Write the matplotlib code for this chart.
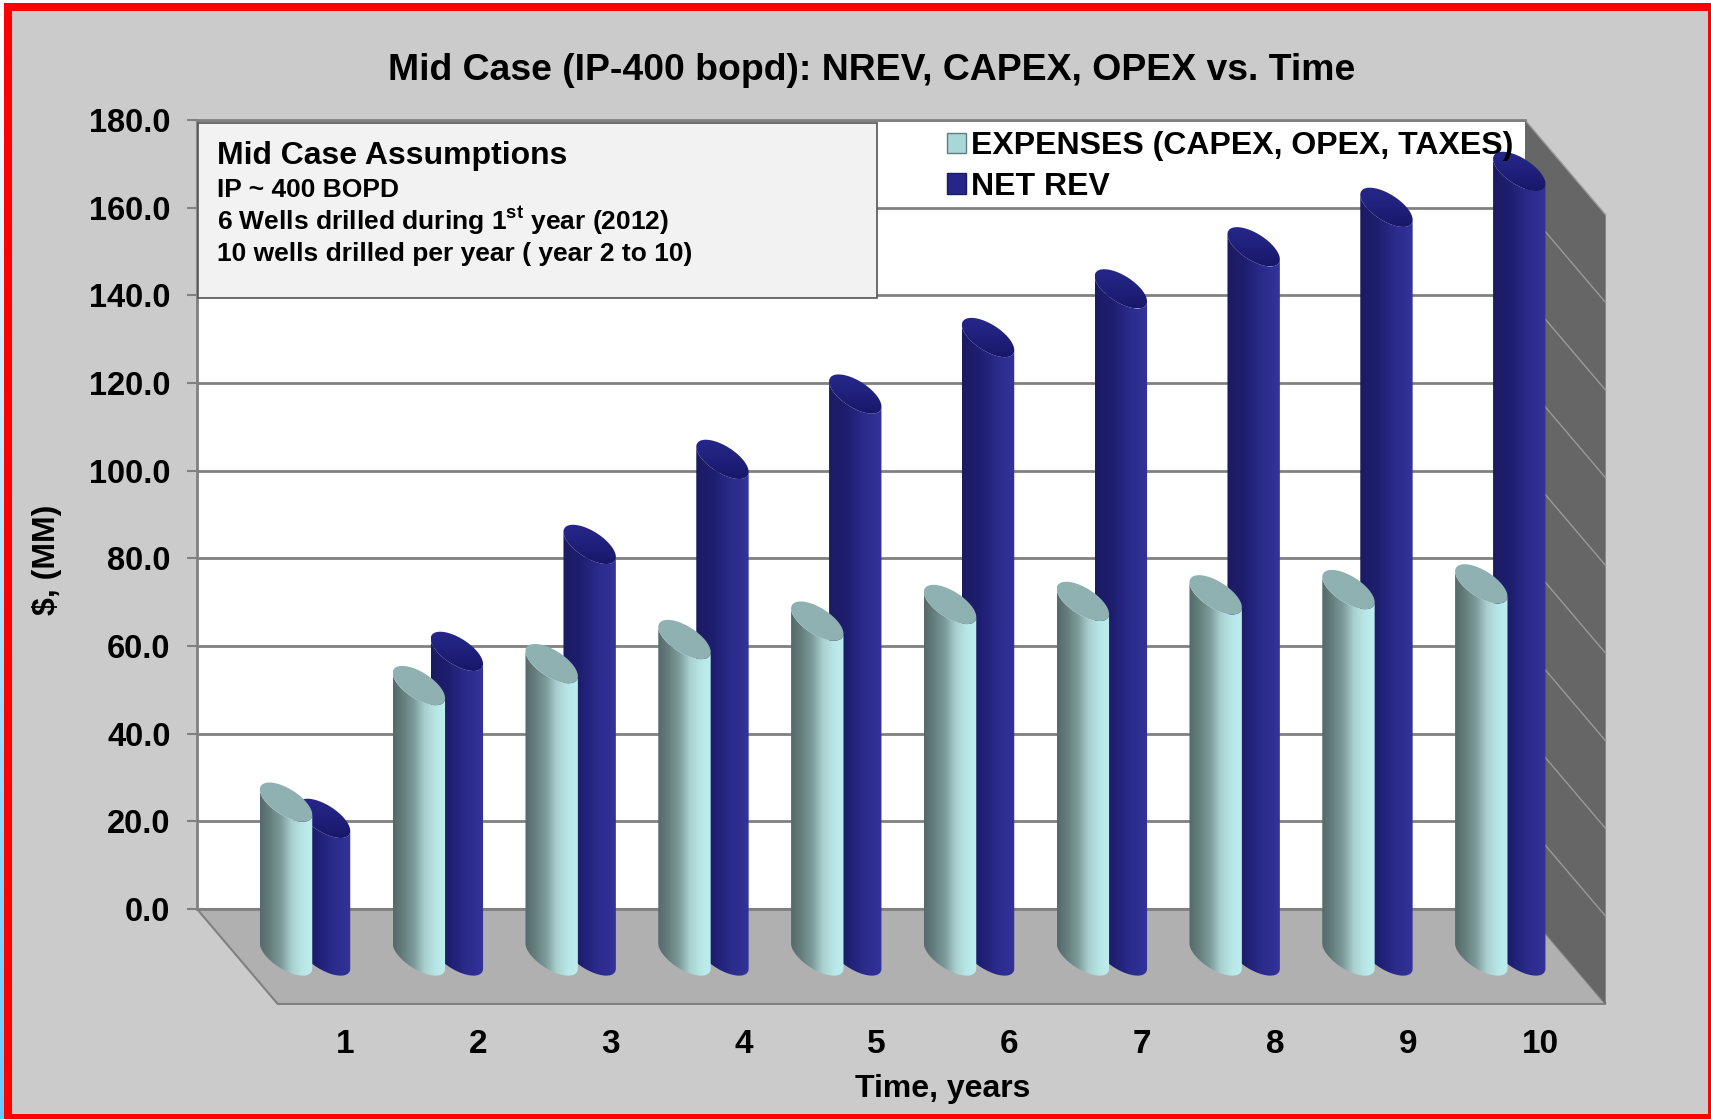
import numpy as np
import matplotlib
matplotlib.use("Agg")
import matplotlib.pyplot as plt
from matplotlib.colors import LinearSegmentedColormap
from matplotlib.patches import Polygon, Rectangle, Patch

years = [1, 2, 3, 4, 5, 6, 7, 8, 9, 10]
expenses = [35.1, 61.7, 66.7, 72.2, 76.4, 80.2, 80.9, 82.4, 83.6, 84.9]
net_rev = [31.4, 69.5, 93.9, 113.3, 128.2, 141.1, 152.2, 161.8, 170.8, 179.0]
y_ticks = [0, 20, 40, 60, 80, 100, 120, 140, 160, 180]

W, H = 1711, 1119
plt.rcParams['font.family'] = ['Liberation Sans', 'DejaVu Sans']
plt.rcParams['font.weight'] = 'bold'
plt.rcParams['mathtext.fontset'] = 'custom'
plt.rcParams['mathtext.rm'] = 'Liberation Sans:bold'
plt.rcParams['mathtext.bf'] = 'Liberation Sans:bold'

BG = '#cbcbcb'
GRID = '#808080'

# depth of the fake 3d box, in data units
DX = 0.6076
DY = -21.66
# cylinder shape
A, B, C = 0.152, 0.1256, 4.48
DEPTH = 0.495
OFFSET = 0.143

exp_cmap = LinearSegmentedColormap.from_list('exp', ['#55696a', '#66807f', '#7d9b9b', '#a9cfcf', '#b8e6e6', '#bdeeee'])
rev_cmap = LinearSegmentedColormap.from_list('rev', ['#1b1b63', '#1e1e70', '#2b2b8c', '#333399'])
rev_top = LinearSegmentedColormap.from_list('revtop', ['#27278a', '#20207c', '#17176a'])
exp_top = LinearSegmentedColormap.from_list('exptop', ['#8fb1b1', '#8fb1b1'])
strip_cmap = LinearSegmentedColormap.from_list('strip', ['#ffffff', '#66ccff'])


def px(x, y):
    return x / W, 1 - y / H


def cylinder(ax, x, val, cmap, top_cmap, z):
    cx = x + DEPTH * DX
    base = DEPTH * DY
    top = val + base
    tr = np.arctan2(B, A)
    t = np.linspace(tr, tr + np.pi, 60)
    ex = cx + A * np.cos(t) + B * np.sin(t)
    bottom_arc = np.column_stack([ex, base - C * np.sin(t)])
    top_arc = np.column_stack([ex, top - C * np.sin(t)])[::-1]
    body = Polygon(np.vstack([bottom_arc, top_arc]), closed=True, transform=ax.transData)
    half = np.hypot(A, B)
    grad = np.linspace(0, 1, 256).reshape(1, -1)
    im = ax.imshow(grad, extent=(cx - half, cx + half, base - C, top + C), cmap=cmap,
                   aspect='auto', zorder=z, interpolation='bilinear')
    im.set_clip_box(ax.figure.bbox)
    im.set_clip_path(body)
    # lid of the cylinder, darker towards the front
    t2 = np.linspace(0, 2 * np.pi, 100)
    lid = Polygon(np.column_stack([cx + A * np.cos(t2) + B * np.sin(t2), top - C * np.sin(t2)]),
                  closed=True, transform=ax.transData)
    im2 = ax.imshow(np.linspace(0, 1, 64).reshape(-1, 1), extent=(cx - half, cx + half, top - C, top + C),
                    cmap=top_cmap, aspect='auto', zorder=z + 0.01, interpolation='bilinear')
    im2.set_clip_box(ax.figure.bbox)
    im2.set_clip_path(lid)


fig = plt.figure(figsize=(W / 100, H / 100), dpi=100, facecolor=BG)
ax = fig.add_axes([197 / W, 1 - 909 / H, (1525 - 197) / W, (909 - 120) / H], facecolor='white')
ax.set_xlim(0, 10)
ax.set_ylim(0, 180)
ax.autoscale(False)

# floor and side wall
ax.add_patch(Polygon([(0, 0), (10, 0), (10 + DX, DY), (DX, DY)], closed=True, fc='#b0b0b0',
                     ec=GRID, lw=1.5, zorder=1.5, clip_on=False))
ax.add_patch(Polygon([(10, 180), (10 + DX, 180 + DY), (10 + DX, DY), (10, 0)], closed=True,
                     fc='#666666', ec='none', zorder=1.5, clip_on=False))
for v in y_ticks[1:]:
    ax.plot([10, 10 + DX], [v, v + DY], color='#9a9a9a', lw=1, zorder=1.6, clip_on=False)

for i, year in enumerate(years):
    x = year - 0.487
    cylinder(ax, x + OFFSET, net_rev[i], rev_cmap, rev_top, 3 + i * 0.1)
    cylinder(ax, x - OFFSET, expenses[i], exp_cmap, exp_top, 3.05 + i * 0.1)

ax.set_yticks(y_ticks)
ax.set_yticklabels([f"{v:.1f}" for v in y_ticks], fontsize=23.5, fontweight='bold')
ax.set_xticks([])
# year labels sit at the front of the floor, not at the wall
for year in years:
    ax.text(year - 0.49 + DX, -30.9, str(year), fontsize=24, fontweight='bold', ha='center',
            va='center', clip_on=False)
ax.tick_params(axis='y', length=7, width=1.5, color=GRID, pad=12)
ax.grid(axis='y', color=GRID, lw=2)
ax.set_axisbelow(True)
for s in ['left', 'top', 'bottom']:
    ax.spines[s].set_color(GRID)
    ax.spines[s].set_linewidth(2)
ax.spines['right'].set_visible(False)

ax.set_xlabel("Time, years", fontsize=23, fontweight='bold', x=(943 - 197) / 1328, labelpad=119)
fig.text(*px(47, 560), r"\$, (MM)", fontsize=23, fontweight='bold', rotation=90, ha='center', va='center')
fig.text(*px(872, 70), "Mid Case (IP-400 bopd): NREV, CAPEX, OPEX vs. Time", fontsize=26.9,
         fontweight='bold', ha='center', va='center')

# assumptions box
ax.add_patch(Rectangle(((197.5 - 197) / 1328, (909 - 298) / 789), (877 - 197.5) / 1328, 175 / 789,
                       transform=ax.transAxes, fc='#f2f2f2', ec='#555555', lw=1.2, zorder=4))
fig.text(*px(217, 156), "Mid Case Assumptions", fontsize=23, ha='left', va='center', zorder=6)
fig.text(*px(217, 190), "IP ~ 400 BOPD", fontsize=19, ha='left', va='center', zorder=6)
fig.text(*px(217, 221), r"6 Wells drilled during 1$^{\mathrm{st}}$ year (2012)", fontsize=19,
         ha='left', va='center', zorder=6)
fig.text(*px(217, 254), "10 wells drilled per year ( year 2 to 10)", fontsize=19, ha='left',
         va='center', zorder=6)

handles = [Patch(fc='#a9d6d6', ec='#5f7f7f', label='EXPENSES (CAPEX, OPEX, TAXES)'),
           Patch(fc='#26268a', ec='#1b1b63', label='NET REV')]
ax.legend(handles=handles, loc='upper left', bbox_to_anchor=((939 - 197) / 1328, 0.996), frameon=False,
          fontsize=23, handlelength=0.6, handleheight=0.6, handletextpad=0.15, labelspacing=0.33,
          borderaxespad=0, borderpad=0.25).set_zorder(8)

# pale strip left of the frame, white at the top and blue at the bottom
strip = fig.add_axes([0, 0, 4 / W, 1], zorder=9)
strip.imshow(np.linspace(0, 1, 128).reshape(-1, 1), cmap=strip_cmap, aspect='auto')
strip.axis('off')

# frame round the slide
for x0, y0, w, h, c in [(0, 0, W, 3, '#ffffff'), (4, 3, 8, H, '#ff0000'), (4, 3, W, 8, '#ff0000'),
                        (W - 3, 3, 3, H, '#ff0000'), (4, H - 5, W, 5, '#ff0000')]:
    fig.add_artist(Rectangle((x0 / W, 1 - (y0 + h) / H), w / W, h / H, transform=fig.transFigure,
                             fc=c, ec='none', zorder=10))

fig.savefig('out.png', dpi=100, facecolor=BG)
